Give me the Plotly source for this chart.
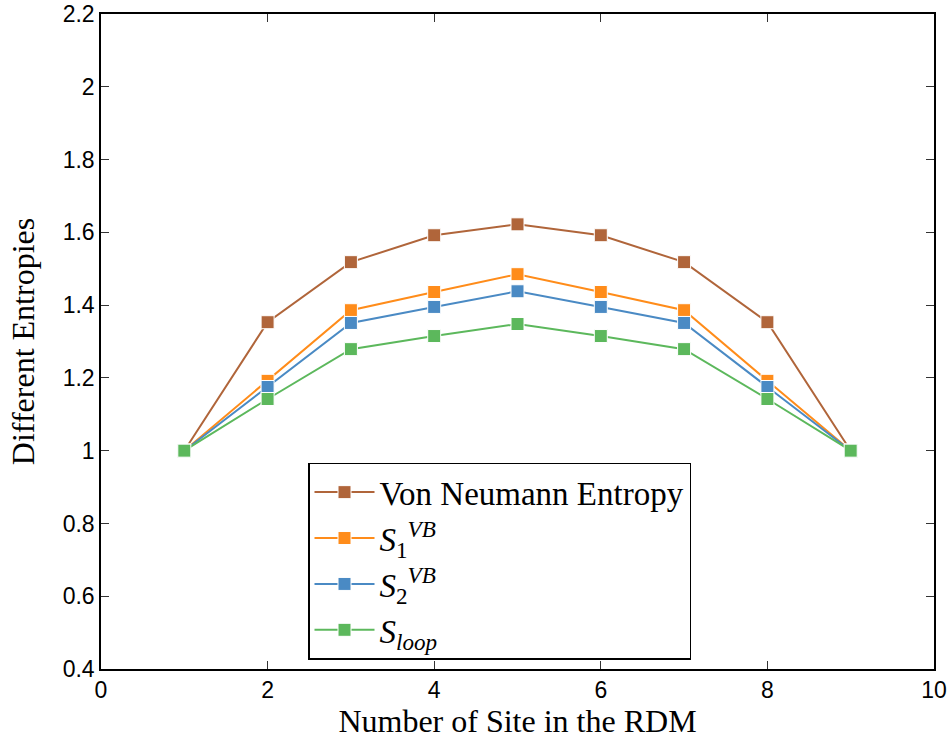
import plotly.graph_objects as go

sites = [1, 2, 3, 4, 5, 6, 7, 8, 9]
von_neumann = [1.0, 1.353, 1.518, 1.592, 1.622, 1.592, 1.518, 1.353, 1.0]
s1_vb = [1.0, 1.192, 1.386, 1.436, 1.485, 1.436, 1.386, 1.192, 1.0]
s2_vb = [1.0, 1.175, 1.351, 1.395, 1.438, 1.395, 1.351, 1.175, 1.0]
s_loop = [1.0, 1.142, 1.279, 1.315, 1.348, 1.315, 1.279, 1.142, 1.0]

names = ["Von Neumann Entropy",
         "<i>S</i><sub>1</sub><sup><i>VB</i></sup>",
         "<i>S</i><sub>2</sub><sup><i>VB</i></sup>",
         "<i>S</i><sub><i>loop</i></sub>"]
colors = ["#B0653A", "#FF8C1A", "#4A8AC4", "#5CB85C"]
series = [von_neumann, s1_vb, s2_vb, s_loop]

fig = go.Figure()
for name, col, ys in zip(names, colors, series):
    fig.add_trace(go.Scatter(
        x=sites, y=ys, mode="lines+markers", name=name,
        line=dict(color=col, width=2),
        marker=dict(symbol="square", size=13, color=col,
                    line=dict(color="white", width=1)),
    ))

axis_common = dict(
    showline=True, linecolor="black", linewidth=1.5, mirror="ticks",
    ticks="inside", ticklen=8, tickcolor="#333", showgrid=False, zeroline=False,
    automargin=False, ticklabeloverflow="allow",
    tickfont=dict(family="Liberation Sans, Arial", size=23, color="black"),
)

fig.update_layout(
    width=952, height=746,
    margin=dict(l=101, r=18, t=14, b=77),
    plot_bgcolor="white", paper_bgcolor="white",
    xaxis=dict(range=[0, 10], tickvals=[0, 2, 4, 6, 8, 10],
               title=dict(text="Number of Site in the RDM",
                          font=dict(family="Liberation Serif, DejaVu Serif", size=32, color="black"),
                          standoff=6),
               **axis_common),
    yaxis=dict(range=[0.4, 2.2], tickvals=[0.4, 0.6, 0.8, 1, 1.2, 1.4, 1.6, 1.8, 2, 2.2],
               ticktext=["0.4", "0.6", "0.8", "1", "1.2", "1.4", "1.6", "1.8", "2", "2.2"],
               title=dict(text="Different Entropies",
                          font=dict(family="Liberation Serif, DejaVu Serif", size=32, color="black"),
                          standoff=18),
               **axis_common),
    legend=dict(x=0.2485, y=0.315, xanchor="left", yanchor="top",
                bgcolor="white", bordercolor="black", borderwidth=1.5,
                font=dict(family="Liberation Serif, DejaVu Serif", size=33, color="black"),
                itemwidth=60, tracegroupgap=0),
    showlegend=True,
)

fig.write_html("out.html")
